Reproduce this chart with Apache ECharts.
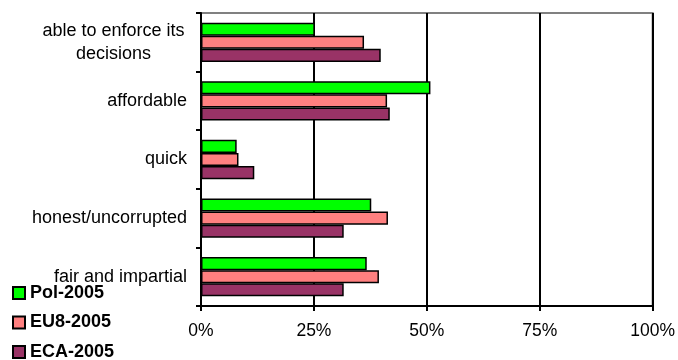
<!DOCTYPE html>
<html><head><meta charset="utf-8">
<script src="https://cdn.jsdelivr.net/npm/echarts@6/dist/echarts.min.js"></script>
<style>html,body{margin:0;padding:0;background:#fff}#c{width:678px;height:360px}</style>
</head><body><div id="c"></div>
<script>
const categories = ["able to enforce its\ndecisions", "affordable", "quick", "honest/uncorrupted", "fair and impartial"];
const pol2005 = [25.2, 50.8, 7.9, 37.7, 36.7];
const eu82005 = [36.1, 41.2, 8.3, 41.4, 39.4];
const eca2005 = [39.8, 41.8, 11.8, 31.6, 31.6];
const xTicks = [0, 25, 50, 75, 100];
const seriesNames = ['Pol-2005', 'EU8-2005', 'ECA-2005'];

const chart = echarts.init(document.getElementById('c'), null, {renderer: 'canvas'});
const font = '"Liberation Sans", Arial, sans-serif';
function s(name, data, color) {
  return {
    name, type: 'bar', data,
    barGap: '0%', barCategoryGap: '33%',
    itemStyle: {color, borderColor: '#000', borderWidth: 1.5},
    emphasis: {disabled: true}, animation: false
  };
}
const yData = categories.map(c => c.indexOf('\n') >= 0
  ? {value: c, textStyle: {align: 'center', padding: [0, 147, 0, 0]}}
  : c);
chart.setOption({
  animation: false,
  textStyle: {fontFamily: font},
  grid: {left: 201, right: 25, top: 13, bottom: 54, show: true, borderColor: '#808080', borderWidth: 2, backgroundColor: '#fff'},
  legend: {
    orient: 'vertical', left: 12, top: 284, height: 120, padding: 0, itemGap: 11.5, itemWidth: 12, itemHeight: 12, icon: 'rect',
    textStyle: {fontFamily: font, fontWeight: 'bold', fontSize: 18, color: '#000'},
    data: seriesNames
  },
  xAxis: {
    type: 'value', min: xTicks[0], max: xTicks[xTicks.length - 1], interval: 25,
    axisLine: {show: true, lineStyle: {color: '#000', width: 2}},
    axisTick: {show: true, length: 5, lineStyle: {color: '#000', width: 2}},
    splitLine: {show: true, lineStyle: {color: '#000', width: 2}},
    axisLabel: {formatter: v => v + '%', color: '#000', fontSize: 17.5, margin: 16, fontFamily: font}
  },
  yAxis: {
    type: 'category', data: yData, inverse: true,
    axisLine: {show: true, lineStyle: {color: '#000', width: 2}},
    axisTick: {show: true, length: 5, lineStyle: {color: '#000', width: 2}},
    axisLabel: {color: '#000', fontSize: 18, margin: 14, lineHeight: 23, fontFamily: font, align: 'right'}
  },
  series: [
    s(seriesNames[0], pol2005, '#00FF00'),
    s(seriesNames[1], eu82005, '#FF8080'),
    s(seriesNames[2], eca2005, '#993366')
  ]
});
</script></body></html>
